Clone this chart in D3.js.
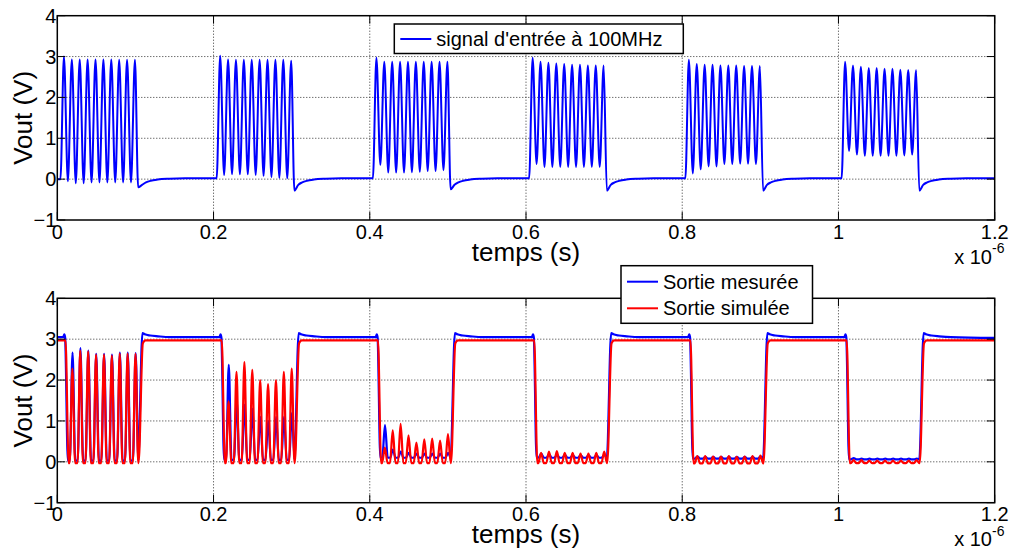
<!DOCTYPE html>
<html><head><meta charset="utf-8">
<script src="https://cdn.jsdelivr.net/npm/d3@7"></script>
<style>
body{margin:0;background:#fff;}
text{font-family:"Liberation Sans",Arial,Helvetica,sans-serif;fill:#000;}
</style></head>
<body><svg id="c" width="1017" height="555"></svg>
<script>
// ---------- DATA (time in µs, voltage in V) ----------
const xTicks = [0, 0.2, 0.4, 0.6, 0.8, 1, 1.2];
const yTicks = [-1, 0, 1, 2, 3, 4];
const burstStarts = [0, 0.2, 0.4, 0.6, 0.8, 1.0];
const period = 0.0101;                       // 100 MHz

// input signal
const inPeaks = [
  [3.00,2.93,2.93,2.93,2.93,2.93,2.93,2.92,2.92,2.92],
  [3.02,2.93,2.92,2.92,2.92,2.92,2.92,2.92,2.92,2.90],
  [2.97,2.87,2.87,2.87,2.87,2.87,2.87,2.87,2.87,2.87],
  [2.97,2.87,2.85,2.83,2.82,2.80,2.80,2.78,2.78,2.78],
  [2.92,2.82,2.80,2.80,2.78,2.78,2.78,2.77,2.77,2.77],
  [2.87,2.78,2.75,2.72,2.72,2.70,2.70,2.68,2.67,2.67]
];
const inTroughs = [
  [-0.05,-0.10,-0.10,-0.08,-0.08,-0.08,-0.08,-0.08,-0.08],
  [0.10,0.12,0.12,0.12,0.10,0.08,0.05,0.03,0.02],
  [0.35,0.16,0.16,0.16,0.17,0.18,0.20,0.20,0.22],
  [0.37,0.30,0.30,0.30,0.30,0.30,0.30,0.30,0.30],
  [0.14,0.24,0.31,0.31,0.37,0.37,0.38,0.38,0.37],
  [0.69,0.60,0.57,0.57,0.57,0.57,0.57,0.58,0.60]
];
const inDips = [-0.20,-0.28,-0.25,-0.28,-0.28,-0.28];
const inBase = [0.00,0.02,0.02,0.02,0.02,0.02];
const inRecoveryDt = [0.005,0.010,0.016,0.025,0.040,0.060];
const inRecoveryV  = [-0.14,-0.08,-0.04,-0.01,0.01,0.02];
const inEndLevel = 0.02;

// output signals
const simPeaks = [
  [2.28,2.72,2.70,2.62,2.62,2.60,2.65,2.65,2.64],
  [1.48,2.20,2.44,2.25,2.00,1.90,2.00,2.20,2.28],
  [0.35,0.77,0.93,0.65,0.47,0.55,0.57,0.52,0.68],
  [0.22,0.25,0.26,0.22,0.22,0.20,0.20,0.22,0.25],
  [0.14,0.14,0.13,0.13,0.14,0.12,0.13,0.14,0.15],
  [0.04,0.04,0.03,0.03,0.03,0.03,0.03,0.03,0.04]
];
const simTrough = [-0.03,-0.03,-0.03,-0.03,-0.04,-0.03];
const simHigh = 2.97;
const measPeaks = [
  [2.67,2.78,2.72,2.64,2.64,2.62,2.67,2.67,2.66],
  [2.37,1.50,1.40,1.30,1.10,1.00,1.10,1.10,1.20],
  [0.90,0.30,0.25,0.22,0.20,0.20,0.20,0.20,0.22],
  [0.20,0.18,0.17,0.17,0.16,0.16,0.16,0.16,0.17],
  [0.13,0.12,0.12,0.12,0.12,0.12,0.12,0.12,0.13],
  [0.09,0.08,0.08,0.08,0.08,0.08,0.08,0.08,0.08]
];
const measTrough = [0.03,0.05,0.10,0.10,0.08,0.06];
const measHigh = 3.05;
const measPreSpike = 3.12;
const measOvershootDt = [0.000,0.003,0.010,0.020,0.035];
const measOvershootV  = [3.15,3.12,3.09,3.07,3.05];

const legendTop = ["signal d'entrée à 100MHz"];
const legendBottom = ["Sortie mesurée", "Sortie simulée"];

// ---------- BUILD SERIES ----------
function inputSeries(){
  const pts = [[0, inBase[0]]];
  burstStarts.forEach((t0,k)=>{
    pts.push([t0+0.004, inBase[k]]);
    inPeaks[k].forEach((p,i)=>{
      const tp = t0+0.0085+i*period;
      pts.push([tp,p]);
      if(i<inTroughs[k].length) pts.push([tp+period/2, inTroughs[k][i]]);
    });
    const td = t0+0.1035;
    pts.push([td, inDips[k]]);
    inRecoveryDt.forEach((dt,j)=>pts.push([td+dt, inRecoveryV[j]]));
  });
  pts.push([1.2, inEndLevel]);
  return pts;
}
function simSeries(){
  const pts = [[0, simHigh]];
  burstStarts.forEach((t0,k)=>{
    if(k>0) pts.push([t0+0.0100, simHigh]);
    pts.push([t0+0.0105, simHigh]);
    pts.push([t0+0.0145, simTrough[k]]);
    simPeaks[k].forEach((p,i)=>{
      const tp = t0+0.0193+i*period;
      pts.push([tp-0.0035, simTrough[k]],[tp,p],[tp+0.0035, simTrough[k]]);
    });
    pts.push([t0+0.1040, simTrough[k]]);
    pts.push([t0+0.1095, simHigh-0.07]);
    pts.push([t0+0.1130, simHigh]);
  });
  pts.push([1.2, simHigh]);
  return pts;
}
function measSeries(){
  const pts = [[0, measHigh]];
  burstStarts.forEach((t0,k)=>{
    pts.push([t0+0.0075, measHigh],[t0+0.0090, measPreSpike],[t0+0.0100, measHigh]);
    pts.push([t0+0.0135, measTrough[k]]);
    measPeaks[k].forEach((p,i)=>{
      const tp = t0+0.0195+i*period;
      pts.push([tp-0.0035, measTrough[k]],[tp,p],[tp+0.0035, measTrough[k]]);
    });
    pts.push([t0+0.1035, measTrough[k]]);
    const tr = t0+0.1090;
    measOvershootDt.forEach((dt,j)=>pts.push([tr+dt, measOvershootV[j]]));
  });
  pts.push([1.2, measHigh-0.02]);
  return pts;
}

// ---------- DRAW ----------
const svg = d3.select("#c");
const L = 57.3, R = 994.7;
const panels = [{top:15.7, bottom:220}, {top:298.3, bottom:502.7}];
const x = d3.scaleLinear().domain([0,1.2]).range([L,R]);

panels.forEach((pn,idx)=>{
  const y = d3.scaleLinear().domain([-1,4]).range([pn.bottom, pn.top]);
  pn.y = y;
  const g = svg.append("g");
  // grid
  g.selectAll(".gx").data(xTicks.slice(1,-1)).enter().append("line")
    .attr("x1",d=>x(d)).attr("x2",d=>x(d)).attr("y1",pn.top).attr("y2",pn.bottom)
    .attr("stroke","#333").attr("stroke-width",1).attr("stroke-dasharray","1,2");
  g.selectAll(".gy").data(yTicks.slice(1,-1)).enter().append("line")
    .attr("x1",L).attr("x2",R).attr("y1",d=>y(d)).attr("y2",d=>y(d))
    .attr("stroke","#333").attr("stroke-width",1).attr("stroke-dasharray","1,2");
  pn.g = g;
});

const line = (y)=> d3.line().x(d=>x(d[0])).y(d=>y(d[1])).curve(d3.curveMonotoneX);

// top data
panels[0].g.append("path").datum(inputSeries()).attr("d", line(panels[0].y))
  .attr("fill","none").attr("stroke","#0000ff").attr("stroke-width",2);
// bottom data
panels[1].g.append("path").datum(measSeries()).attr("d", line(panels[1].y))
  .attr("fill","none").attr("stroke","#0000ff").attr("stroke-width",2.2);
panels[1].g.append("path").datum(simSeries()).attr("d", line(panels[1].y))
  .attr("fill","none").attr("stroke","#ff0000").attr("stroke-width",2.2);

// axes box, ticks, labels
panels.forEach((pn,idx)=>{
  const g = pn.g, y = pn.y, T = 8;
  g.append("rect").attr("x",L).attr("y",pn.top).attr("width",R-L).attr("height",pn.bottom-pn.top)
    .attr("fill","none").attr("stroke","#000").attr("stroke-width",1.5);
  xTicks.forEach(t=>{
    g.append("line").attr("x1",x(t)).attr("x2",x(t)).attr("y1",pn.bottom).attr("y2",pn.bottom-T).attr("stroke","#000").attr("stroke-width",1);
    g.append("line").attr("x1",x(t)).attr("x2",x(t)).attr("y1",pn.top).attr("y2",pn.top+T).attr("stroke","#000").attr("stroke-width",1);
  });
  yTicks.forEach(t=>{
    g.append("line").attr("x1",L).attr("x2",L+T).attr("y1",y(t)).attr("y2",y(t)).attr("stroke","#000").attr("stroke-width",1);
    g.append("line").attr("x1",R).attr("x2",R-T).attr("y1",y(t)).attr("y2",y(t)).attr("stroke","#000").attr("stroke-width",1);
  });
  g.selectAll(".xl").data(xTicks).enter().append("text")
    .attr("x",d=>x(d)).attr("y",pn.bottom+18.5).attr("text-anchor","middle")
    .attr("font-size",20).text(d=>d3.format("~g")(d));
  g.selectAll(".yl").data(yTicks).enter().append("text")
    .attr("x",L-1).attr("y",d=>y(d)+7).attr("text-anchor","end")
    .attr("font-size",20).text(d=>d3.format("~g")(d));
  g.append("text").attr("x",(L+R)/2).attr("y",pn.bottom+40.5).attr("text-anchor","middle")
    .attr("font-size",26).text("temps (s)");
  g.append("text").attr("transform",`translate(32,${(pn.top+pn.bottom)/2}) rotate(-90)`)
    .attr("text-anchor","middle").attr("font-size",26).text("Vout (V)");
  const ex = g.append("text").attr("x",992).attr("y",pn.bottom+43.5).attr("text-anchor","end").attr("font-size",20);
  ex.append("tspan").text("x 10");
  g.append("text").attr("x",992).attr("y",pn.bottom+33).attr("font-size",14).text("-6");
});

// legends
function legend(g, x0, y0, w, h, items, colors, rowY){
  g.append("rect").attr("x",x0).attr("y",y0).attr("width",w).attr("height",h)
    .attr("fill","#fff").attr("stroke","#000").attr("stroke-width",1.5);
  items.forEach((s,i)=>{
    g.append("line").attr("x1",x0+6).attr("x2",x0+37).attr("y1",rowY[i]).attr("y2",rowY[i])
      .attr("stroke",colors[i]).attr("stroke-width",2);
    g.append("text").attr("x",x0+42).attr("y",rowY[i]+7).attr("font-size",20).text(s);
  });
}
legend(svg.append("g"), 394.3, 24, 289, 29.5, legendTop, ["#0000ff"], [39]);
legend(svg.append("g"), 621, 265.7, 191.5, 57.6, legendBottom, ["#0000ff","#ff0000"], [281.7,308.3]);
</script></body></html>
